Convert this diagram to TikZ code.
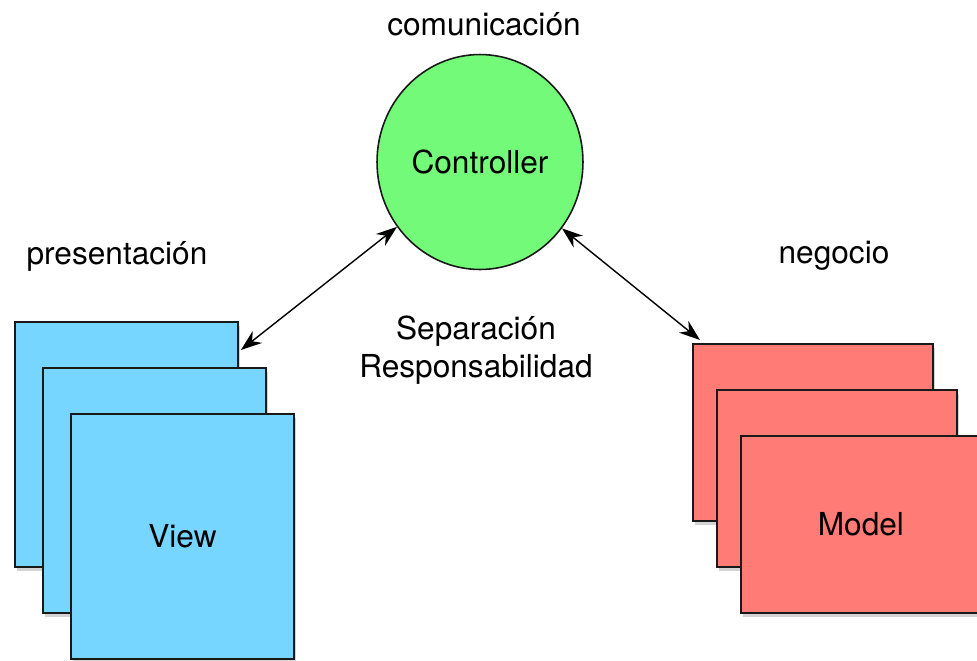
\documentclass[tikz,border=0pt]{standalone}
\usepackage{fontspec}
\setmainfont{TeX Gyre Heros}
\usetikzlibrary{shapes.geometric, shadows, arrows.meta}

\definecolor{viewblue}{RGB}{118,214,255}
\definecolor{ctrlgreen}{RGB}{115,250,121}
\definecolor{modelred}{RGB}{255,123,118}

\begin{document}
\begin{tikzpicture}[
						x=0.02cm, y=-0.02cm,
						every node/.style={font=\fontsize{18}{22}\selectfont},
						sheet/.style={rectangle, draw=black!90, line width=1.1pt, inner sep=0pt, anchor=north west,
							drop shadow={shadow xshift=0.4mm, shadow yshift=-0.8mm, opacity=0.35}},
						viewsheet/.style={sheet, fill=viewblue, minimum width=4.46cm, minimum height=4.9cm},
						modelsheet/.style={sheet, fill=modelred, minimum width=4.8cm, minimum height=3.54cm},
						label/.style={rectangle, align=center, inner sep=0pt}
					]
					\useasboundingbox (0,0) rectangle (977,660);
					\clip (0,0) rectangle (977,660);
					\node[ellipse, draw=black!90, line width=0.9pt, fill=ctrlgreen, minimum width=4.12cm, minimum height=4.3cm, inner sep=0pt] (ctrl) at (480,162) {Controller};
					\node[viewsheet] (view1) at (14,321) {};
					\node[viewsheet] (view2) at (42,367) {};
					\node[viewsheet] (view3) at (70,413) {View};
					\node[modelsheet] (model1) at (692,343) {};
					\node[modelsheet] (model2) at (716,389) {};
					\node[modelsheet] (model3) at (740,435) {Model};
					\node[label] (comunic) at (484,24) {comunicación};
					\node[label] (present) at (117,256) {presentación};
					\node[label] (negocio) at (834,256) {negocio};
					\node[label] (separ) at (476,350) {Separación\\Responsabilidad};
					\begin{scope}[line width=0.8pt, {Stealth[length=4.2mm, width=3mm]}-{Stealth[length=4.2mm, width=3mm]}]
					\draw (ctrl.218) -- ([xshift=0.04cm, yshift=-0.58cm]view1.north east);
					\draw (ctrl.321) -- ([xshift=0.16cm, yshift=0.06cm]model1.north west);
					\end{scope}
					\end{tikzpicture}
\end{document}
